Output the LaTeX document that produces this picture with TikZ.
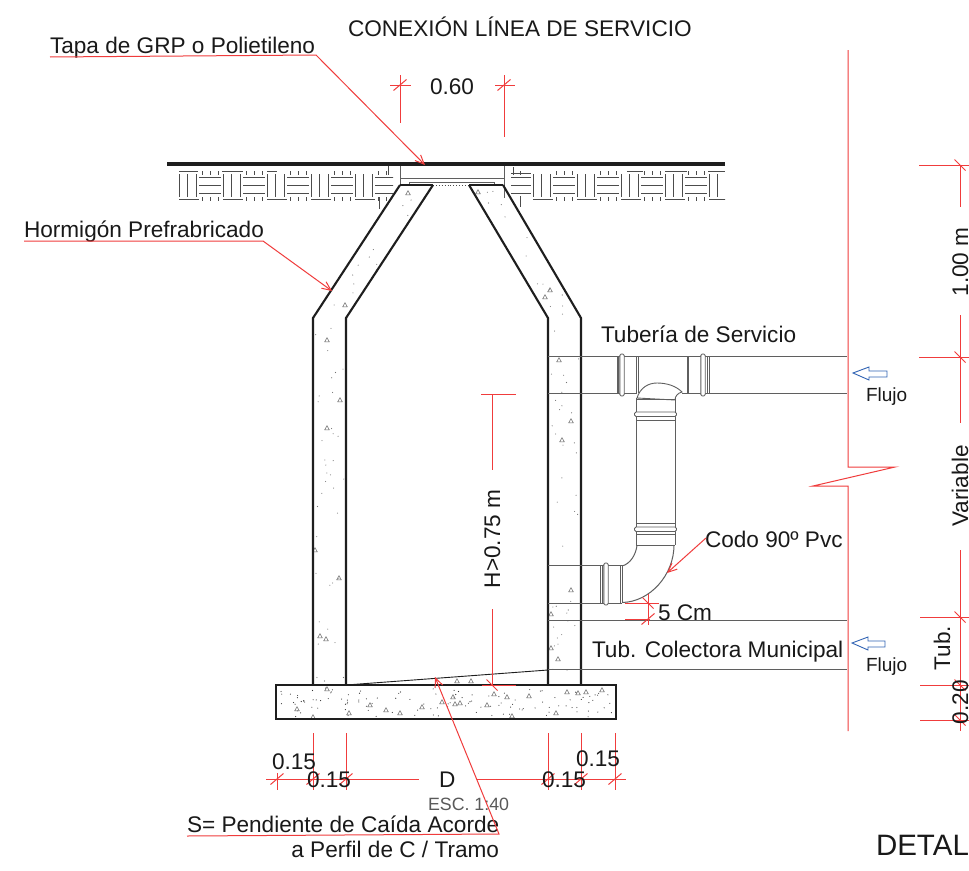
\documentclass[tikz,border=0pt]{standalone}
\usepackage{fontspec}
\setmainfont{Liberation Sans}
\usetikzlibrary{arrows.meta}
\definecolor{dimred}{RGB}{240,60,60}
\definecolor{flowblue}{RGB}{50,100,180}
\definecolor{pipegray}{RGB}{95,95,95}
\definecolor{inkblack}{RGB}{30,30,30}
\tikzset{
  wall/.style={draw=inkblack,line width=2.1pt,line join=miter},
  pipe/.style={draw=pipegray,line width=.9pt},
  pipeline/.style={draw=pipegray,line width=1pt},
  dimline/.style={draw=dimred,line width=1pt},
  leader/.style={draw=dimred,line width=1pt,-{Straight Barb[length=9pt,width=8pt]}},
  hatchline/.style={draw=black!70,line width=.9pt},
  flowarrow/.style={draw=flowblue,line width=.9pt,line join=miter},
  speck/.style={draw=black!60,line width=.5pt},
  label/.style={inner sep=0pt,outer sep=0pt,anchor=base west,text=black!90,font=\fontsize{22.6}{22.6}\selectfont},
  small/.style={label,font=\fontsize{19}{19}\selectfont},
  vert/.style={label,anchor=base,rotate=90}
}
\newcommand{\tickf}[2]{\draw[dimline,shift={(#1,#2)}] (-6.5,5.5)--(6.5,-5.5);}
\newcommand{\tickb}[2]{\draw[dimline,shift={(#1,#2)}] (-5.5,-5.5)--(5.5,5.5);}
\newcommand{\tri}[2]{\draw[speck,shift={(#1,#2)}] (-2.3,1.8)--(2.3,1.8)--(0,-2.3)--cycle;}
\newcommand{\hatchtile}{%
  \foreach \dx in {0,8,17}{\draw[hatchline] (\dx,174)--(\dx,197);}
  \foreach \dy in {177,185,193}{\draw[hatchline] (20,\dy)--(42,\dy);}
  \foreach \dx in {23,31,39}{\draw[hatchline] (\dx,171)--(\dx,174.5);\draw[hatchline] (\dx,197)--(\dx,201);}
  \draw[hatchline] (0,199)--(20,199);}
\begin{document}
\begin{tikzpicture}[x=1pt,y=-1pt]
\useasboundingbox (0,0) rectangle (969,870);
\clip (0,0) rectangle (969,870);
\fill[white] (0,0) rectangle (969,870);

% ---- ground hatch
\begin{scope}
\clip (170,166) rectangle (393,210);
\foreach \k in {0,1,...,4}{\begin{scope}[shift={(179+\k*44,0)}]\hatchtile\end{scope}}
\foreach \xa/\xb in {179/198,222/243,267/277}{\draw[hatchline] (\xa,171)--(\xb,171);}
\end{scope}
\begin{scope}
\clip (530,166) rectangle (725,210);
\foreach \k in {0,1,2,3,4}{\begin{scope}[shift={(533+\k*44,0)}]\hatchtile\end{scope}}
\foreach \xa/\xb in {627/643,665/687,708/725}{\draw[hatchline] (\xa,171)--(\xb,171);}
\end{scope}
\foreach \dy in {177,185,193}{\draw[hatchline] (511,\dy)--(531,\dy);}
\draw[hatchline] (511,173)--(531,173);
\draw[hatchline] (388,166)--(388,175);
\draw[hatchline] (379,197)--(379,209);
\draw[hatchline] (513,167)--(513,175);
\draw[hatchline] (520,171)--(520,175);
\draw[hatchline] (520,196)--(520,207);

% ---- lid
\draw[pipe] (400,166)--(400,186);
\draw[pipe] (504,166)--(504,198);
\draw[pipe] (400,178)--(504,178);
\draw[pipe] (409,184)--(409,182)--(494,182)--(494,184);
\draw[wall] (400,185)--(433,185);
\draw[wall] (469,185)--(503,185);
\draw[hatchline,dotted] (433,185)--(469,185);

% ---- concrete speckles
\pgfmathsetseed{42}
\foreach \i in {1,...,36}{
  \pgfmathsetmacro\px{315+29*rnd}\pgfmathsetmacro\py{322+360*rnd}
  \fill[black!55] (\px,\py) circle (.55);
  \pgfmathsetmacro\qx{551+28*rnd}\pgfmathsetmacro\qy{322+360*rnd}
  \fill[black!55] (\qx,\qy) circle (.55);
}
\foreach \i in {1,...,14}{
  \pgfmathsetmacro\tt{rnd}\pgfmathsetmacro\ss{rnd}
  \pgfmathsetmacro\px{318+86*\tt+4+24*\ss}\pgfmathsetmacro\py{316-128*\tt}
  \fill[black!55] (\px,\py) circle (.55);
  \pgfmathsetmacro\tt{rnd}\pgfmathsetmacro\ss{rnd}
  \pgfmathsetmacro\qx{550-78*\tt+4+22*\ss}\pgfmathsetmacro\qy{316-128*\tt}
  \fill[black!55] (\qx,\qy) circle (.55);
}
\foreach \i in {1,...,120}{
  \pgfmathsetmacro\px{279+334*rnd}\pgfmathsetmacro\py{688+29*rnd}
  \fill[black!80] (\px,\py) circle (.55);
}
\foreach \x/\y in {327/340,340/400,327/428,315/550,339/578,320/636,326/639,408/193,345/305,478/192,550/290,545/297,559/360,571/421,562/440,571/590,551/614,551/648,558/659}{\tri{\x}{\y}}
\foreach \x/\y in {297/709,313/717,327/689,349/713,370/705,386/710,400/713,422/707,442/702,457/681,471/681,487/705,494/694,507/697,512/716,529/696,453/697,455/704,460/703,567/692,578/693,586/692,602/690,556/713}{\tri{\x}{\y}}

% ---- walls and base
\draw[wall] (313,685)--(313,318)--(400,185);
\draw[wall] (346,685)--(346,318)--(433,185);
\draw[wall] (548,685)--(548,318)--(469,185);
\draw[wall] (581,685)--(581,318)--(503,185);
\draw[wall] (276,685) rectangle (616,719);

% ---- ground surface
\draw[draw=inkblack,line width=3.8pt] (167,164)--(725,164);

% ---- pipes
\draw[pipeline] (548,356)--(847,356);
\draw[pipeline] (548,393)--(637,393);
\draw[pipeline] (682,393)--(847,393);
\draw[pipeline] (548,565)--(622,565);
\draw[pipeline] (548,603)--(622,603);
\draw[pipeline,line width=.7pt] (548,620)--(847,620);
\draw[pipeline,line width=.7pt] (548,669.5)--(847,669.5);
\draw[pipeline,line width=.9pt,draw=inkblack] (346,685)--(548,670);
% upper collars
\foreach \a/\b/\c in {617/622/638,687/703/709}{
  \draw[pipe] (\a,356)--(\a,393);
  \draw[pipe] (\a+1.8,356)--(\a+1.8,393);
  \draw[pipe] (\c,356)--(\c,393);
  \draw[pipe] (\c-1.8,356)--(\c-1.8,393);
  \draw[pipe,fill=white,rounded corners=1.5pt] (\b-2.2,354)--(\b+2.2,354)--(\b+2.2,396)--(\b-2.2,396)--cycle;
}
% tee crown
\draw[pipe,fill=white] (637,398) .. controls (640,388) and (648,383) .. (657,383) .. controls (667,383) and (676,386) .. (682,392) .. controls (678,393) and (675,396) .. (675,400) -- cycle;
% vertical pipe
\draw[pipe,line width=1pt] (636,398)--(636,545);
\draw[pipe,line width=1pt] (675,398)--(675,545);
\draw[pipe] (636,399)--(675,399);
\draw[pipe,fill=white,rounded corners=1.5pt] (634.5,412)--(676.5,412)--(676.5,416.5)--(634.5,416.5)--cycle;
\draw[pipe] (636,420)--(675,420);
\draw[pipe] (636,523)--(675,523);
\draw[pipe,fill=white,rounded corners=1.5pt] (634.5,527)--(676.5,527)--(676.5,531.5)--(634.5,531.5)--cycle;
\draw[pipe] (636,534)--(675,534);
\draw[pipe] (636,545)--(675,545);
% elbow
\draw[pipe,line width=1pt] (637,545) .. controls (636,555) and (630,564) .. (622,566);
\draw[pipe,line width=1pt] (674,545) .. controls (674,575) and (650,602) .. (622,602.5);
% lower collar
\draw[pipe] (600,565)--(600,603);
\draw[pipe] (602,565)--(602,603);
\draw[pipe] (620,565)--(620,603);
\draw[pipe] (622,565)--(622,603);
\draw[pipe,fill=white,rounded corners=1.5pt] (603.8,563)--(608.2,563)--(608.2,605)--(603.8,605)--cycle;

% ---- right break line and dimensions
\draw[dimline] (848,50)--(848,467)--(895,467)--(813,486)--(848,486)--(848,731);
\draw[dimline] (919,165)--(969,165);
\draw[dimline] (919,357)--(969,357);
\draw[dimline] (920,617)--(969,617);
\draw[dimline] (920,685)--(969,685);
\draw[dimline] (920,720)--(969,720);
\draw[dimline] (960,165)--(960,207);
\draw[dimline] (960,315)--(960,423);
\draw[dimline] (960,550)--(960,731);
\foreach \y in {165,357,617,685,720}{\tickb{960}{\y}}

% ---- H dimension
\draw[dimline] (481,394)--(516,394);
\draw[dimline] (492,394)--(492,470);
\draw[dimline] (492,609)--(492,685);
\draw[dimline] (482,685)--(516,685);
\tickb{492}{685}

% ---- 0.60 dimension
\draw[dimline] (400,75)--(400,123);
\draw[dimline] (504,75)--(504,137);
\draw[dimline] (390,85)--(411,85);
\draw[dimline] (495,85)--(515,85);
\tickf{400}{85}
\tickf{504}{85}

% ---- bottom dimensions
\draw[dimline] (266,779)--(419,779);
\draw[dimline] (477,779)--(626,779);
\draw[dimline] (277,773)--(277,790);
\foreach \x in {313,346,548,581,615}{\draw[dimline] (\x,733)--(\x,790);}
\foreach \x in {277,313,346,548,581,615}{\tickf{\x}{779}}

% ---- 5 Cm dimension
\draw[dimline] (625,603)--(659,603);
\draw[dimline] (625,619.5)--(650,619.5);
\draw[dimline] (648,594)--(648,625);
\tickb{648}{603}
\tickf{648}{619}

% ---- flow arrows
\draw[flowarrow] (853,373)--(869,367)--(869,371)--(887,371)--(887,377)--(869,377)--(869,380)--cycle;
\draw[flowarrow] (852,643)--(868,637)--(868,641)--(885,641)--(885,647)--(868,647)--(868,650)--cycle;

% ---- texts
\node[label] (title) at (348,36) {CONEXIÓN LÍNEA DE SERVICIO};
\node[label] (tapa) at (50,53) {Tapa de GRP o Polietileno};
\node[label] (dimlid) at (430,94) {0.60};
\node[label] (horm) at (24,237) {Hormigón Prefrabricado};
\node[label] (tub) at (601,342) {Tubería de Servicio};
\node[label] (codo) at (705,547) {Codo 90º Pvc};
\node[label] (cinco) at (658,620) {5 Cm};
\node[label] (colec) at (592,657) {Tub. Colectora Municipal};
\node[small] (fluA) at (866,401) {Flujo};
\node[small] (fluB) at (866,671) {Flujo};
\node[vert] (h) at (500,539) {H>0.75 m};
\node[vert] (uno) at (968,262) {1.00 m};
\node[vert] (var) at (968,486) {Variable};
\node[vert] (tubv) at (950,648) {Tub.};
\node[vert] (cero) at (968,702) {0.20};
\node[label] (a) at (272,769) {0.15};
\node[label] (b) at (307,787) {0.15};
\node[label] (c) at (542,787) {0.15};
\node[label] (d) at (576,766) {0.15};
\node[label] (dd) at (439,787) {D};
\node[small,text=black!65,font=\fontsize{17.8}{17.8}\selectfont] (esc) at (428,810) {ESC. 1:40};
\node[label] (pend) at (187,832) {S= Pendiente de Caída Acorde};
\node[label,anchor=base east] (perfil) at (499,857) {a Perfil de C / Tramo};
\node[label,font=\fontsize{29.5}{29.5}\selectfont] (det) at (876,855) {DETAL};

% ---- leaders
\coordinate (tapaA) at (50,57);
\coordinate (tapaB) at (316,55);
\coordinate (tapaC) at (425,165);
\draw[leader] (tapaA)--(tapaB)--(tapaC);
\coordinate (hormA) at (24,241);
\coordinate (hormB) at (263,241);
\coordinate (hormC) at (332,291);
\draw[leader] (hormA)--(hormB)--(hormC);
\coordinate (codoA) at (706,538);
\coordinate (codoC) at (667,573);
\draw[leader] (codoA)--(codoC);
\coordinate (pendA) at (187,836);
\coordinate (pendB) at (499,834);
\coordinate (pendC) at (435,677);
\draw[leader] (pendA)--(pendB)--(pendC);
\end{tikzpicture}
\end{document}
